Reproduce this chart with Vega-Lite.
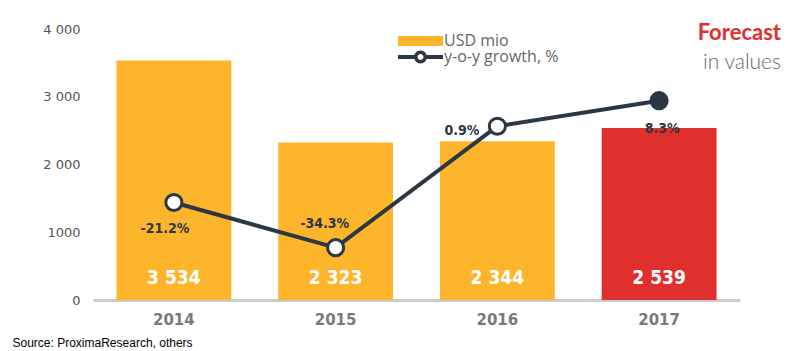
{
  "$schema": "https://vega.github.io/schema/vega-lite/v6.json",
  "width": 647,
  "height": 271,
  "autosize": {"type": "none"},
  "padding": {"left": 93, "top": 29, "right": 60, "bottom": 51},
  "background": "white",
  "config": {
    "view": {"stroke": null},
    "locale": {"number": {"decimal": ".", "thousands": " ", "grouping": [3], "currency": ["", ""], "minus": "-"}}
  },
  "data": {"values": [
    {"year": "2014", "usd": 3534, "growth": -0.212},
    {"year": "2015", "usd": 2323, "growth": -0.343},
    {"year": "2016", "usd": 2344, "growth": 0.009},
    {"year": "2017", "usd": 2539, "growth": 0.083}
  ]},
  "title": {
    "text": "Forecast",
    "subtitle": "in values",
    "anchor": "end",
    "frame": "group",
    "orient": "top",
    "dx": 41,
    "offset": -51,
    "font": "Lato",
    "fontSize": 22,
    "fontWeight": "bold",
    "color": "#E0302D",
    "subtitleFont": "Lato",
    "subtitleFontSize": 21,
    "subtitleFontWeight": 300,
    "subtitleColor": "#6a6a6a",
    "subtitlePadding": 7
  },
  "encoding": {
    "x": {
      "field": "year",
      "type": "nominal",
      "scale": {"paddingInner": 0.29, "paddingOuter": 0.145},
      "axis": {
        "title": "Source: ProximaResearch, others",
        "titleAnchor": "start",
        "titleX": -81,
        "titleY": 46,
        "titleAlign": "left",
        "titleBaseline": "alphabetic",
        "titleFont": "Liberation Sans",
        "titleFontSize": 12,
        "titleFontWeight": "normal",
        "titleColor": "#000000",
        "labelAngle": 0,
        "labelFont": "DejaVu Sans",
        "labelFontSize": 15,
        "labelFontWeight": "bold",
        "labelColor": "#7a7a7a",
        "labelPadding": 12,
        "ticks": false,
        "domainColor": "#cccccc",
        "domainWidth": 3
      }
    }
  },
  "layer": [
    {
      "layer": [
        {
          "mark": {"type": "bar"},
          "encoding": {
            "y": {
              "field": "usd",
              "type": "quantitative",
              "scale": {"domain": [0, 4000], "nice": false},
              "axis": {
                "title": null,
                "domain": false,
                "ticks": false,
                "grid": false,
                "values": [0, 1000, 2000, 3000, 4000],
                "labelExpr": "datum.value == 1000 ? '1000' : datum.label",
                "labelFont": "DejaVu Sans",
                "labelFontSize": 13,
                "labelColor": "#555555",
                "labelPadding": 13
              }
            },
            "color": {
              "datum": "USD mio",
              "type": "nominal",
              "condition": {"test": "datum.year == '2017'", "value": "#E0302D"},
              "scale": {"domain": ["USD mio", "y-o-y growth, %"], "range": ["#FDB52B", "#2B3744"]},
              "legend": {
                "title": null,
                "orient": "none",
                "legendX": 303,
                "legendY": 4,
                "labelFont": "Open Sans",
                "labelFontSize": 16,
                "labelColor": "#666666",
                "symbolSize": 144,
                "labelOffset": 32,
                "rowPadding": -3,
                "encode": {
                  "symbols": {
                    "update": {
                      "shape": {"signal": "datum.value === 'USD mio' ? 'M-1,-0.83H6.5V0.83H-1Z' : 'M-1,-0.33H1.7V0.33H-1Z M3.8,-0.33H6.5V0.33H3.8Z M3.83,0A1.08,1.08 0 1 1 1.67,0A1.08,1.08 0 1 1 3.83,0Z M3.25,0A0.5,0.5 0 1 0 2.25,0A0.5,0.5 0 1 0 3.25,0Z'"},
                      "strokeWidth": {"value": 0},
                      "opacity": {"value": 1},
                      "fillOpacity": {"value": 1}
                    }
                  }
                }
              }
            }
          }
        },
        {
          "mark": {"type": "text", "color": "white", "font": "DejaVu Sans Condensed", "fontWeight": "bold", "fontSize": 19, "baseline": "middle", "dy": -22},
          "encoding": {
            "y": {"datum": 0, "type": "quantitative"},
            "text": {"field": "usd", "type": "quantitative", "format": ","}
          }
        }
      ]
    },
    {
      "layer": [
        {
          "mark": {"type": "line", "strokeWidth": 4},
          "encoding": {
            "y": {"field": "growth", "type": "quantitative", "scale": {"domain": [-0.4946, 0.2906], "nice": false, "zero": false}, "axis": null},
            "color": {
              "datum": "y-o-y growth, %",
              "type": "nominal",
              "legend": {
                "title": null,
                "orient": "none",
                "legendX": 303,
                "legendY": 4,
                "labelFont": "Open Sans",
                "labelFontSize": 16,
                "labelColor": "#666666",
                "symbolSize": 144,
                "labelOffset": 32,
                "rowPadding": -3,
                "encode": {
                  "symbols": {
                    "update": {
                      "shape": {"signal": "datum.value === 'USD mio' ? 'M-1,-0.83H6.5V0.83H-1Z' : 'M-1,-0.33H1.7V0.33H-1Z M3.8,-0.33H6.5V0.33H3.8Z M3.83,0A1.08,1.08 0 1 1 1.67,0A1.08,1.08 0 1 1 3.83,0Z M3.25,0A0.5,0.5 0 1 0 2.25,0A0.5,0.5 0 1 0 3.25,0Z'"},
                      "strokeWidth": {"value": 0},
                      "opacity": {"value": 1},
                      "fillOpacity": {"value": 1}
                    }
                  }
                }
              }
            }
          }
        },
        {
          "mark": {"type": "point", "filled": false, "size": 260, "strokeWidth": 3, "stroke": "#2B3744", "opacity": 1},
          "encoding": {
            "y": {"field": "growth", "type": "quantitative"},
            "fill": {"condition": {"test": "datum.year == '2017'", "value": "#2B3744"}, "value": "#ffffff"}
          }
        },
        {
          "transform": [{"filter": "datum.year == '2014'"}],
          "mark": {"type": "text", "color": "#2B3744", "font": "DejaVu Sans Condensed", "fontWeight": "bold", "fontSize": 14, "baseline": "middle", "dy": 27, "dx": -9},
          "encoding": {
            "y": {"field": "growth", "type": "quantitative"},
            "text": {"field": "growth", "type": "quantitative", "format": ".1%"}
          }
        },
        {
          "transform": [{"filter": "datum.year == '2015'"}],
          "mark": {"type": "text", "color": "#2B3744", "font": "DejaVu Sans Condensed", "fontWeight": "bold", "fontSize": 14, "baseline": "middle", "dy": -24, "dx": -11},
          "encoding": {
            "y": {"field": "growth", "type": "quantitative"},
            "text": {"field": "growth", "type": "quantitative", "format": ".1%"}
          }
        },
        {
          "transform": [{"filter": "datum.year == '2016'"}],
          "mark": {"type": "text", "color": "#2B3744", "font": "DejaVu Sans Condensed", "fontWeight": "bold", "fontSize": 14, "baseline": "middle", "align": "right", "dy": 5, "dx": -18},
          "encoding": {
            "y": {"field": "growth", "type": "quantitative"},
            "text": {"field": "growth", "type": "quantitative", "format": ".1%"}
          }
        },
        {
          "transform": [{"filter": "datum.year == '2017'"}],
          "mark": {"type": "text", "color": "#2B3744", "font": "DejaVu Sans Condensed", "fontWeight": "bold", "fontSize": 14, "baseline": "middle", "dy": 28, "dx": 3},
          "encoding": {
            "y": {"field": "growth", "type": "quantitative"},
            "text": {"field": "growth", "type": "quantitative", "format": ".1%"}
          }
        }
      ]
    }
  ],
  "resolve": {"scale": {"y": "independent"}}
}
